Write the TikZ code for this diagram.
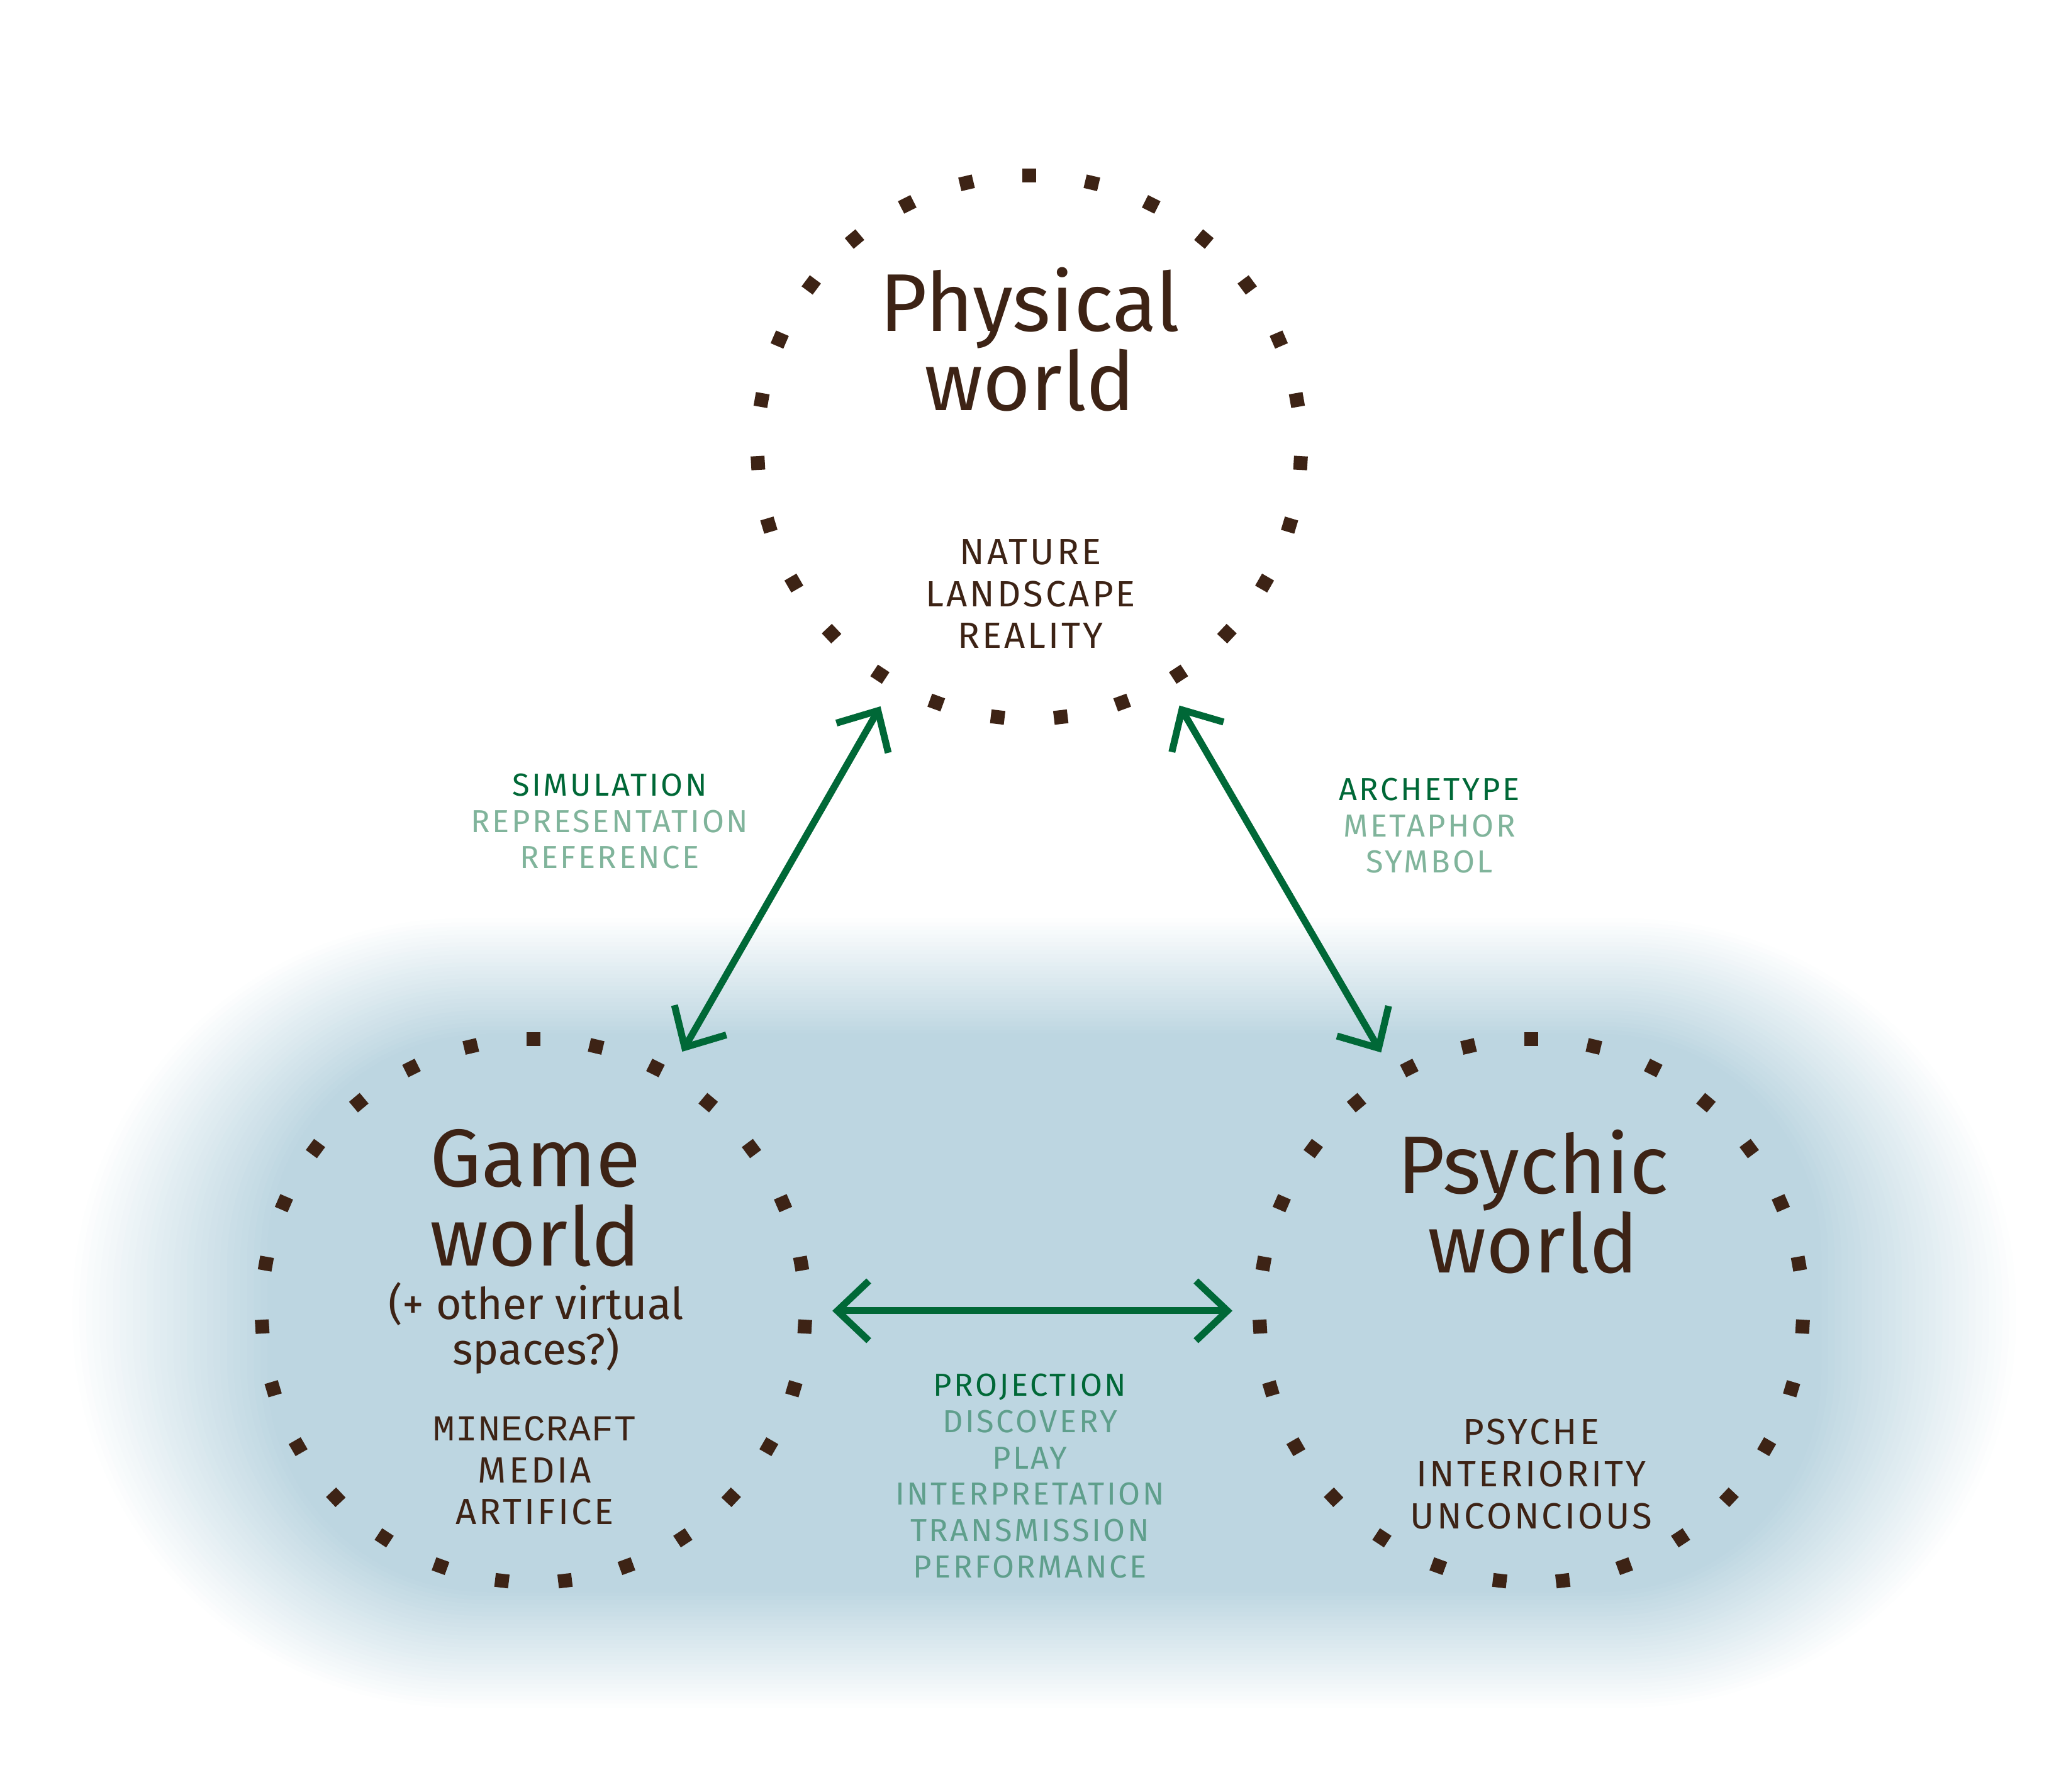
\documentclass[tikz,border=0pt]{standalone}
\usepackage{fontspec}
\usepackage{tikz}
\usepackage{xcolor}
\usetikzlibrary{arrows.meta}
\setmainfont{Fira Sans}
\newfontfamily\capsfont[LetterSpace=7]{Fira Sans}
\newfontfamily\pixfont[LetterSpace=2]{Liberation Mono}
\definecolor{worldbrown}{RGB}{61,35,21}
\definecolor{linkgreen}{RGB}{0,104,55}
\definecolor{hazeblue}{RGB}{189,214,225}
\newcommand{\faint}[1]{\textcolor{linkgreen!50!white}{#1}}
\newcommand{\faintblue}[1]{\textcolor{linkgreen!50!hazeblue}{#1}}

\begin{document}
\begin{tikzpicture}[
    world/.style={circle, minimum size=9.5cm, inner sep=0pt, outer sep=0pt},
    title/.style={align=center, anchor=base, text=worldbrown, font=\fontsize{37}{36}\selectfont},
    aside/.style={align=center, anchor=base, text=worldbrown, font=\fontsize{19.8}{20.5}\selectfont},
    keywords/.style={align=center, anchor=base, text=worldbrown, font=\capsfont\fontsize{16.5}{19}\selectfont},
    relation/.style={align=center, anchor=base, text=linkgreen, font=\capsfont\fontsize{14.4}{16.4}\selectfont},
    link/.style={draw=linkgreen, line width=0.11cm, {Straight Barb[length=0.5cm,width=0.95cm]}-{Straight Barb[length=0.5cm,width=0.95cm]}}
]
            \useasboundingbox (0,0) rectangle (32.84,28.48);
            \foreach \k in {0,...,30}
            {
                \pgfmathsetmacro{\dx}{3.2*\k/30}
                \pgfmathsetmacro{\dy}{1.9*\k/30}
                \pgfmathsetmacro{\rr}{6.3-2.8*\k/30}
                \pgfmathsetmacro{\pc}{100*\k/30}
                \fill[hazeblue!\pc!white, rounded corners=\rr cm] (1.05+\dx,1.27+\dy) rectangle (32.15-\dx,13.94-\dy);
            }
            \node[world] (phys) at (16.36,21.37) {};
            \node[world] (game) at (8.48,7.64) {};
            \node[world] (psy) at (24.34,7.64) {};
            \foreach \c in {phys,game,psy}
            {
                \foreach \i in {0,...,26}
                {
                    \fill[worldbrown, shift={(\c.center)}, rotate={90+\i*360/27}] (4.21,-0.11) rectangle (4.43,0.11);
                }
            }
            \node[title] (physname) at (16.37,21.95) {Physical\\world};
            \node[keywords] (physwords) at (16.38,18.17) {NATURE\\LANDSCAPE\\REALITY};
            \node[title] (gamename) at (8.51,8.35) {Game\\world};
            \node[aside] (gamenote) at (8.52,6.78) {(+ other virtual\\spaces?)};
            \node[keywords] (gamewords) at (8.50,4.24) {{\pixfont MINECRAFT}\\MEDIA\\ARTIFICE};
            \node[title] (psyname) at (24.37,8.24) {Psychic\\world};
            \node[keywords] (psywords) at (24.34,4.18) {PSYCHE\\INTERIORITY\\UNCONCIOUS};
            \node[relation] (simlabel) at (9.69,14.67) {SIMULATION\\\faint{REPRESENTATION}\\\faint{REFERENCE}};
            \node[relation] (archlabel) at (22.72,14.60) {ARCHETYPE\\\faint{METAPHOR}\\\faint{SYMBOL}};
            \node[relation] (projlabel) at (16.37,3.40) {PROJECTION\\\faintblue{DISCOVERY}\\\faintblue{PLAY}\\\faintblue{INTERPRETATION}\\\faintblue{TRANSMISSION}\\\faintblue{PERFORMANCE}};
            \draw[link] (phys) -- (game);
            \draw[link] (phys) -- (psy);
            \draw[link] (game) -- (psy);
        \end{tikzpicture}
\end{document}
